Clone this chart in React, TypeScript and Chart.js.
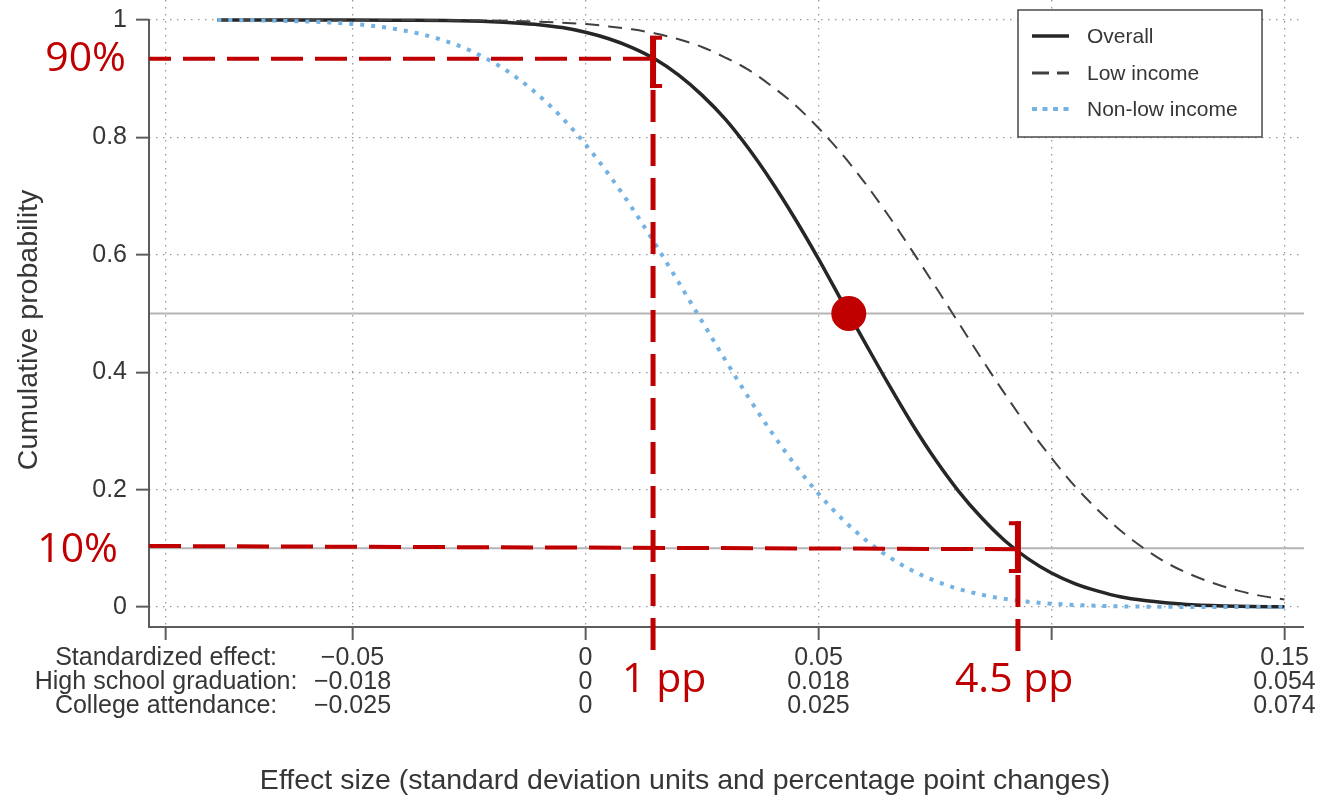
import React, { useEffect, useRef } from 'react';
import { Chart, registerables } from 'chart.js';

Chart.register(...registerables);

// ---------------- data ----------------
const overallX = [-0.079, -0.07, -0.06, -0.05, -0.04, -0.03, -0.02, -0.015, -0.01, -0.005, 0, 0.005, 0.01, 0.015, 0.02, 0.025, 0.03, 0.035, 0.04, 0.045, 0.05, 0.055, 0.06, 0.065, 0.07, 0.075, 0.08, 0.085, 0.09, 0.095, 0.1, 0.105, 0.11, 0.115, 0.12, 0.125, 0.13, 0.14, 0.15];
const overallY = [1.0, 1.0, 1.0, 0.9999, 0.9995, 0.999, 0.997, 0.995, 0.992, 0.987, 0.979, 0.968, 0.953, 0.933, 0.906, 0.872, 0.831, 0.781, 0.724, 0.661, 0.593, 0.521, 0.45, 0.38, 0.313, 0.252, 0.198, 0.152, 0.113, 0.082, 0.058, 0.04, 0.027, 0.017, 0.011, 0.007, 0.004, 0.0013, 0.0004];

const lowX = [-0.079, -0.06, -0.04, -0.03, -0.02, -0.01, 0, 0.005, 0.01, 0.015, 0.02, 0.025, 0.03, 0.035, 0.04, 0.045, 0.05, 0.055, 0.06, 0.065, 0.07, 0.075, 0.08, 0.085, 0.09, 0.095, 0.1, 0.105, 0.11, 0.115, 0.12, 0.125, 0.13, 0.135, 0.14, 0.145, 0.15];
const lowY = [1.0, 1.0, 0.9999, 0.9996, 0.999, 0.997, 0.993, 0.989, 0.984, 0.977, 0.967, 0.954, 0.936, 0.915, 0.887, 0.855, 0.816, 0.772, 0.722, 0.667, 0.608, 0.547, 0.485, 0.423, 0.363, 0.306, 0.254, 0.206, 0.165, 0.129, 0.099, 0.074, 0.055, 0.04, 0.028, 0.019, 0.013];

const nonLowX = [-0.079, -0.07, -0.065, -0.06, -0.055, -0.05, -0.045, -0.04, -0.035, -0.03, -0.025, -0.02, -0.015, -0.01, -0.005, 0, 0.005, 0.01, 0.015, 0.02, 0.025, 0.03, 0.035, 0.04, 0.045, 0.05, 0.055, 0.06, 0.065, 0.07, 0.075, 0.08, 0.085, 0.09, 0.095, 0.1, 0.11, 0.12, 0.13, 0.15];
const nonLowY = [1.0, 0.9993, 0.9985, 0.9974, 0.9958, 0.9932, 0.9893, 0.9835, 0.9754, 0.9641, 0.9488, 0.9288, 0.9032, 0.8714, 0.8332, 0.7881, 0.7367, 0.6797, 0.6179, 0.5529, 0.4868, 0.4207, 0.3569, 0.2969, 0.242, 0.193, 0.1507, 0.1151, 0.0859, 0.0626, 0.0446, 0.031, 0.021, 0.0139, 0.009, 0.0057, 0.0021, 0.0007, 0.0002, 0.0];

const medianX = [0.0565];
const medianY = [0.5];

const seriesNames = ['Overall', 'Low income', 'Non-low income'];

const xTickValues = [-0.09, -0.05, 0, 0.05, 0.1, 0.15];
const xTickRow1 = ['Standardized effect:', '\u22120.05', '0', '0.05', '', '0.15'];
const xTickRow2 = ['High school graduation:', '\u22120.018', '0', '0.018', '', '0.054'];
const xTickRow3 = ['College attendance:', '\u22120.025', '0', '0.025', '', '0.074'];

const yTickValues = [0, 0.2, 0.4, 0.6, 0.8, 1];
const yTickLabels = ['0', '0.2', '0.4', '0.6', '0.8', '1'];

const referenceLines = [0.5, 0.1];

// annotations (values)
const pctLabels = ['90%', '10%'];
const pctLineYStart = [0.934, 0.104];
const pctLineYEnd = [0.934, 0.0985];
const pctLineXEnd = [0.0145, 0.0928];
const ppLabels = ['1 pp', '4.5 pp'];
const ppValues = [0.0145, 0.0928];
const bracketTop = [0.973, 0.146];
const bracketBottom = [0.884, 0.058];

const xTitle = 'Effect size (standard deviation units and percentage point changes)';
const yTitle = 'Cumulative probability';

// ---------------- styles ----------------
const FONT = '"Liberation Sans", Arial, Helvetica, sans-serif';
const ANNOT_FONT = '"Open Sans", "Noto Sans", sans-serif';
const RED = '#C00000';
const TEXT = '#363636';

const pts = (xs: number[], ys: number[]) => xs.map((x, i) => ({ x, y: ys[i] }));

const overlayPlugin = {
  id: 'overlay',
  beforeDatasetsDraw(chart: any) {
    const { ctx, chartArea: ca, scales } = chart;
    const y = scales.y;
    ctx.save();
    ctx.strokeStyle = '#b5b5b5';
    ctx.lineWidth = 2;
    referenceLines.forEach((v) => {
      const py = y.getPixelForValue(v);
      ctx.beginPath();
      ctx.moveTo(ca.left, py);
      ctx.lineTo(ca.right, py);
      ctx.stroke();
    });
    ctx.strokeStyle = '#5c5c5c';
    ctx.lineWidth = 2;
    ctx.beginPath();
    ctx.moveTo(ca.left, y.getPixelForValue(1) - 1);
    ctx.lineTo(ca.left, ca.bottom);
    ctx.lineTo(ca.right, ca.bottom);
    ctx.stroke();
    ctx.restore();
  },
  afterDatasetsDraw(chart: any) {
    const { ctx, chartArea: ca, scales } = chart;
    const x = scales.x, y = scales.y;
    ctx.save();
    ctx.strokeStyle = RED;
    ctx.fillStyle = RED;
    ctx.lineWidth = 4;
    ctx.setLineDash([32, 12]);
    pctLabels.forEach((_, i) => {
      ctx.lineDashOffset = i === 0 ? 10 : 0;
      ctx.beginPath();
      ctx.moveTo(ca.left, y.getPixelForValue(pctLineYStart[i]));
      ctx.lineTo(x.getPixelForValue(pctLineXEnd[i]), y.getPixelForValue(pctLineYEnd[i]));
      ctx.stroke();
    });
    ctx.lineWidth = 5;
    ctx.lineDashOffset = 0;
    ppValues.forEach((v, i) => {
      const px = x.getPixelForValue(v);
      ctx.beginPath();
      ctx.moveTo(px, y.getPixelForValue(bracketBottom[i]) + 2);
      ctx.lineTo(px, ca.bottom + 28);
      ctx.stroke();
    });
    ctx.setLineDash([]);
    ppValues.forEach((v, i) => {
      const px = x.getPixelForValue(v);
      const t = y.getPixelForValue(bracketTop[i]);
      const b = y.getPixelForValue(bracketBottom[i]);
      const dir = i === 0 ? 1 : -1;
      ctx.lineWidth = 6;
      ctx.beginPath();
      ctx.moveTo(px, t);
      ctx.lineTo(px, b);
      ctx.stroke();
      ctx.lineWidth = 4;
      ctx.beginPath();
      ctx.moveTo(px - dir * 3, t + 2);
      ctx.lineTo(px + dir * 9, t + 2);
      ctx.moveTo(px - dir * 3, b - 2);
      ctx.lineTo(px + dir * 9, b - 2);
      ctx.stroke();
    });
    ctx.font = `41px ${ANNOT_FONT}`;
    ctx.textBaseline = 'middle';
    ctx.textAlign = 'right';
    ctx.fillText(pctLabels[0], ca.left - 23, y.getPixelForValue(pctLineYStart[0]) + 1);
    ctx.fillText(pctLabels[1], ca.left - 31, y.getPixelForValue(pctLineYStart[1]) + 4);
    ctx.textAlign = 'left';
    ctx.fillText(ppLabels[0], x.getPixelForValue(ppValues[0]) - 31, ca.bottom + 53);
    ctx.fillText(ppLabels[1], x.getPixelForValue(ppValues[1]) - 63, ca.bottom + 53);
    ctx.restore();
  },
  afterDraw(chart: any) {
    const { ctx } = chart;
    ctx.save();
    const lx = 1018, ly = 10, lw = 244, lh = 127;
    ctx.fillStyle = '#ffffff';
    ctx.fillRect(lx, ly, lw, lh);
    ctx.strokeStyle = '#4a4a4a';
    ctx.lineWidth = 1.5;
    ctx.strokeRect(lx, ly, lw, lh);
    const rows = [36, 73, 109];
    const styles = [
      { c: '#262626', w: 3.5, d: [] as number[] },
      { c: '#404040', w: 3, d: [17, 8] },
      { c: '#73B2E2', w: 4, d: [5, 5.5] },
    ];
    seriesNames.forEach((name, i) => {
      const s = styles[i];
      ctx.strokeStyle = s.c;
      ctx.lineWidth = s.w;
      ctx.setLineDash(s.d);
      ctx.beginPath();
      ctx.moveTo(lx + 14, rows[i]);
      ctx.lineTo(lx + 51, rows[i]);
      ctx.stroke();
      ctx.setLineDash([]);
      ctx.fillStyle = TEXT;
      ctx.font = `21px ${FONT}`;
      ctx.textAlign = 'left';
      ctx.textBaseline = 'middle';
      ctx.fillText(name, lx + 69, rows[i] + 1);
    });
    ctx.fillStyle = TEXT;
    ctx.font = `28.5px ${FONT}`;
    ctx.textAlign = 'center';
    ctx.textBaseline = 'middle';
    ctx.fillText(xTitle, 685, 781);
    ctx.translate(29, 330);
    ctx.rotate(-Math.PI / 2);
    ctx.fillText(yTitle, 0, 0);
    ctx.restore();
  },
};

export default function App() {
  const ref = useRef<HTMLCanvasElement | null>(null);
  useEffect(() => {
    const canvas = ref.current;
    if (!canvas) return;
    const chart = new Chart(canvas, {
      type: 'scatter',
      data: {
        datasets: [
          {
            label: seriesNames[0],
            data: pts(overallX, overallY),
            showLine: true,
            borderColor: '#262626',
            borderWidth: 3.5,
            pointRadius: 0,
            cubicInterpolationMode: 'monotone',
            order: 3,
          } as any,
          {
            label: seriesNames[1],
            data: pts(lowX, lowY),
            showLine: true,
            borderColor: '#404040',
            borderWidth: 2,
            borderDash: [14, 9],
            pointRadius: 0,
            cubicInterpolationMode: 'monotone',
            order: 2,
          },
          {
            label: seriesNames[2],
            data: pts(nonLowX, nonLowY),
            showLine: true,
            borderColor: '#73B2E2',
            borderWidth: 4,
            borderDash: [4, 7],
            borderCapStyle: 'butt',
            pointRadius: 0,
            cubicInterpolationMode: 'monotone',
            order: 1,
          },
          {
            label: 'median',
            data: pts(medianX, medianY),
            showLine: false,
            pointRadius: 17.5,
            pointBackgroundColor: RED,
            pointBorderWidth: 0,
            order: 0,
          },
        ],
      },
      options: {
        animation: false,
        responsive: false,
        maintainAspectRatio: false,
        devicePixelRatio: 1,
        layout: { autoPadding: false, padding: { left: 0, right: 18, top: 0, bottom: 0 } },
        plugins: { legend: { display: false }, tooltip: { enabled: false } },
        scales: {
          x: {
            type: 'linear',
            min: -0.09367,
            max: 0.15419,
            afterBuildTicks: (s: any) => {
              s.ticks = xTickValues.map((v) => ({ value: v }));
            },
            afterFit: (s: any) => {
              s.height = 173;
              s.paddingLeft = 0;
              s.paddingRight = 0;
            },
            ticks: {
              autoSkip: false,
              maxRotation: 0,
              minRotation: 0,
              padding: 6,
              color: TEXT,
              font: { family: FONT, size: 25, lineHeight: 0.96 },
              callback: (_v: any, i: number) => [xTickRow1[i], xTickRow2[i], xTickRow3[i]],
            },
            grid: {
              color: '#9a9a9a',
              lineWidth: 1.3,
              tickLength: 13,
              tickColor: '#5c5c5c',
              tickWidth: 2,
              tickBorderDash: [],
            },
            border: { display: false, dash: [1.5, 5.5] },
          },
          y: {
            type: 'linear',
            min: -0.034,
            max: 1.034,
            afterBuildTicks: (s: any) => {
              s.ticks = yTickValues.map((v) => ({ value: v }));
            },
            afterFit: (s: any) => {
              s.width = 149;
              s.paddingTop = 0;
              s.paddingBottom = 0;
            },
            ticks: {
              padding: 9,
              color: TEXT,
              font: { family: FONT, size: 25 },
              callback: (_v: any, i: number) => yTickLabels[i],
            },
            grid: {
              color: '#9a9a9a',
              lineWidth: 1.3,
              tickLength: 13,
              tickColor: '#5c5c5c',
              tickWidth: 2,
              tickBorderDash: [],
            },
            border: { display: false, dash: [1.5, 5.5] },
          },
        },
      } as any,
      plugins: [overlayPlugin],
    });
    return () => chart.destroy();
  }, []);
  return (
    <div style={{ position: 'fixed', left: 0, top: 0, width: 1322, height: 800, background: '#ffffff' }}>
      <canvas ref={ref} width={1322} height={800} style={{ width: 1322, height: 800, display: 'block' }} />
    </div>
  );
}
